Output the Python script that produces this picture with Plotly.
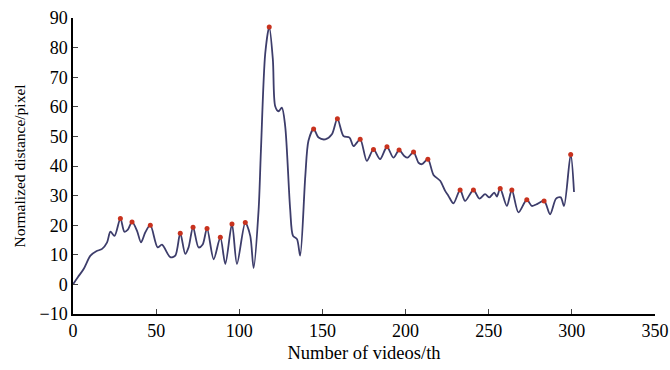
import plotly.graph_objects as go

# Curve samples (Number of videos, normalized distance)
video_idx = [0, 3, 6.4, 10.5, 14, 17.5, 20.5, 22.5, 25, 28.5, 30.9, 33, 35.5, 38.5, 40.9, 43.5, 46.5,
             50.9, 53.5, 58.5, 61.5, 64.5, 67.5, 69.5, 72.2, 75.5, 78, 80.6, 84.6, 88.6, 91.6, 95.6,
             98.6, 103.6, 106.6, 108.6, 111.6, 113, 115.6, 118, 120.2, 121.6, 123.6, 125.6, 127.6,
             130.6, 132.3, 134.7, 136.6, 139.7, 141.6, 144.7, 147.7, 151.7, 155.7, 159, 162.7, 166.3,
             168.7, 172.7, 176.7, 180.7, 184.7, 188.8, 192.7, 196.1, 199.2, 201.2, 204.8, 207.8,
             209.8, 213.4, 216.8, 220.8, 223.8, 225.8, 228.8, 232.8, 235.8, 240.8, 244.4, 247.8,
             250.4, 253.3, 254.9, 256.9, 260.9, 263.9, 267.9, 272.9, 275.9, 278.5, 283.3, 286.9,
             290.5, 293.3, 295.3, 299.3, 301.3]
distance = [0, 2.5, 5.2, 9.7, 11.2, 12, 14.2, 17.8, 16.4, 22.3, 17.8, 18.5, 21.1, 18.1, 14.2, 17.6, 20.0,
            12.5, 13.4, 9.2, 9.7, 17.3, 10.3, 12.5, 19.3, 12.5, 13.5, 18.9, 8.5, 15.9, 6.9, 20.4,
            6.9, 20.9, 16.4, 5.5, 25, 45, 78, 87, 75.9, 60.2, 58.5, 59.7, 53.5,
            25.4, 16.4, 15.3, 9.7, 36.6, 48.5, 52.5, 49.6, 49.0, 50.7, 56, 50.1, 49.6,
            46.7, 49, 41.7, 45.6, 42.3, 46.5, 42.8, 45.4, 43.4, 42.8, 44.7, 41.1,
            40.6, 42.3, 37, 35, 31.6, 29.9, 27.4, 31.9, 28.2, 31.9, 29, 30.5,
            29.4, 31, 29.7, 32.4, 26.5, 31.9, 24.3, 28.6, 26.5, 27, 28.2, 23.7,
            29, 29.4, 26.5, 43.9, 31.2]

# Detected peaks
peak_x = [28.5, 35.5, 46.5, 64.5, 72.2, 80.6, 88.6, 95.6, 103.6, 118, 144.7, 159, 172.7, 180.7,
          188.8, 196.1, 204.8, 213.4, 232.8, 240.8, 256.9, 263.9, 272.9, 283.3, 299.3]
peak_y = [22.3, 21.1, 20.0, 17.3, 19.3, 18.9, 15.9, 20.4, 20.9, 87, 52.5, 56, 49, 45.6,
          46.5, 45.4, 44.7, 42.3, 31.9, 31.9, 32.4, 31.9, 28.6, 28.2, 43.9]

x_ticks = [0, 50, 100, 150, 200, 250, 300, 350]
y_ticks = [-10, 0, 10, 20, 30, 40, 50, 60, 70, 80, 90]

fig = go.Figure()
fig.add_trace(go.Scatter(x=video_idx, y=distance, mode="lines",
                         line=dict(color="#3d3d6b", width=1.8, shape="spline", smoothing=0.8),
                         hoverinfo="skip", showlegend=False))
fig.add_trace(go.Scatter(x=peak_x, y=peak_y, mode="markers",
                         marker=dict(color="#c8321e", size=5),
                         showlegend=False))

fam = "Liberation Serif, Times New Roman, serif"
tick_font = dict(family=fam, size=18, color="black")
fig.update_layout(
    width=670, height=370,
    margin=dict(l=73, r=15, t=18, b=56),
    paper_bgcolor="white", plot_bgcolor="white",
    font=dict(family=fam, size=18, color="black"),
    xaxis=dict(range=[0, 350], tickvals=x_ticks, ticks="inside", ticklen=5, tickwidth=1.3,
               tickfont=tick_font, automargin=False,
               showline=True, linecolor="black", linewidth=1.5, showgrid=False, zeroline=False,
               title=dict(text="Number of videos/th", font=dict(family=fam, size=18.5, color="black"),
                          standoff=6)),
    yaxis=dict(range=[-10, 90], tickvals=y_ticks, ticks="inside", ticklen=5, tickwidth=1.3,
               tickfont=tick_font, automargin=False,
               showline=True, linecolor="black", linewidth=1.5, showgrid=False, zeroline=False,
               title=dict(text="Normalized distance/pixel", font=dict(family=fam, size=15.5, color="black"),
                          standoff=10)),
)
fig.write_html("out.html")
